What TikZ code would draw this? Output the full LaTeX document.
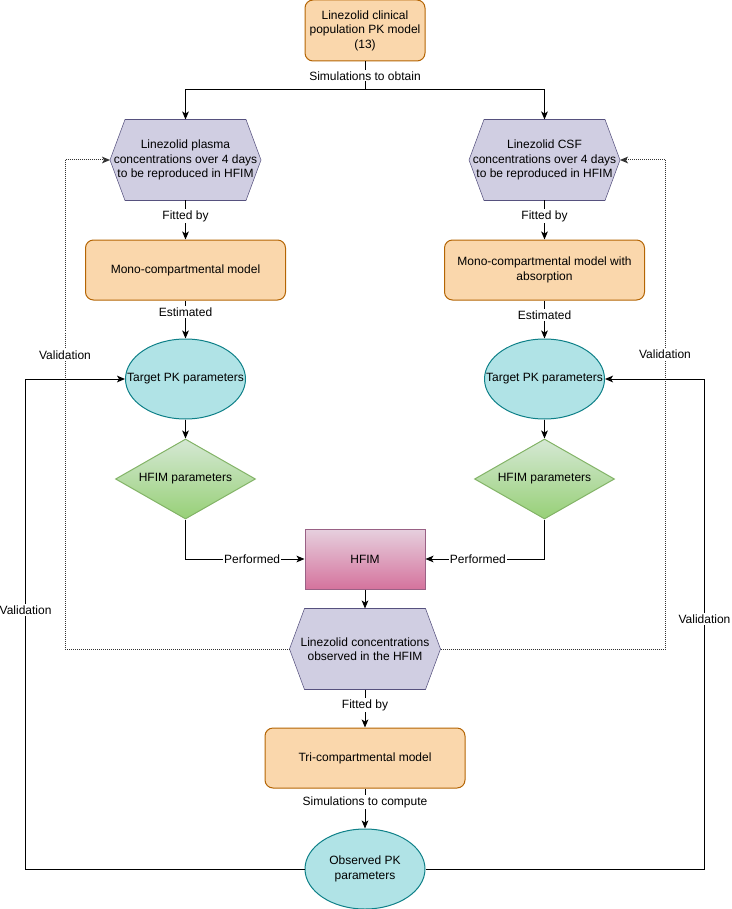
\documentclass[tikz,border=0pt]{standalone}
\usepackage{fontspec}
\setmainfont{Liberation Sans}
\usetikzlibrary{arrows.meta,positioning,shapes.geometric,backgrounds}
\definecolor{modelFill}{HTML}{FAD7AC}
\definecolor{modelLine}{HTML}{B46504}
\definecolor{concFill}{HTML}{D0CEE2}
\definecolor{concLine}{HTML}{56517E}
\definecolor{pkFill}{HTML}{B0E3E6}
\definecolor{pkLine}{HTML}{0E8088}
\definecolor{parTop}{HTML}{D5E8D4}
\definecolor{parBot}{HTML}{97D077}
\definecolor{parLine}{HTML}{82B366}
\definecolor{runTop}{HTML}{E6D0DE}
\definecolor{runBot}{HTML}{D5739D}
\definecolor{runLine}{HTML}{996185}
\definecolor{dotLine}{HTML}{333333}
\tikzset{
  model/.style={draw=modelLine,fill=modelFill,rounded corners=6pt,
    minimum width=150pt,minimum height=45pt,align=center},
  conc/.style={minimum width=112.5pt,minimum height=60pt,inner sep=0pt,align=center},
  pkpar/.style={ellipse,draw=pkLine,fill=pkFill,minimum width=90pt,
    minimum height=60pt,inner sep=0pt,align=center},
  hfimpar/.style={diamond,draw=parLine,top color=parTop,bottom color=parBot,
    minimum width=105pt,minimum height=60pt,aspect=1.75,inner sep=0pt},
  runbox/.style={draw=runLine,top color=runTop,bottom color=runBot,
    minimum width=90pt,minimum height=45pt},
  lbl/.style={fill=white,inner sep=1pt},
  arr/.style={-{Stealth[length=6pt,width=5pt,inset=1.5pt]}},
  valdot/.style={arr,dotLine,dash pattern=on 0.75pt off 0.75pt}
}
\newcommand{\hexbg}[1]{\filldraw[draw=concLine,fill=concFill]
  ([xshift=11.25pt]#1.north west) -- ([xshift=-11.25pt]#1.north east) -- (#1.east)
  -- ([xshift=-11.25pt]#1.south east) -- ([xshift=11.25pt]#1.south west) -- (#1.west) -- cycle;}

\begin{document}
\begin{tikzpicture}[x=0.75pt,y=-0.75pt,font=\fontsize{9}{10.9}\selectfont,line width=0.75pt]
  \useasboundingbox (0,0) rectangle (731,909);
  % boxes
  \node[model,minimum width=90pt,minimum height=45.75pt] (clin) at (365,30.5)
    {Linezolid clinical\\population PK model\\(13)};
  \coordinate (split) at (365,90);
  \node[conc] (plasma) at (185.5,160)
    {Linezolid plasma\\concentrations over 4 days\\to be reproduced in HFIM};
  \node[conc] (csf) at (544.5,160)
    {Linezolid CSF\\concentrations over 4 days\\to be reproduced in HFIM};
  \node[model] (monoL) at (185.5,270) {Mono-compartmental model};
  \node[model] (monoR) at (544.5,270) {Mono-compartmental model with\\absorption};
  \node[pkpar] (targL) at (185.5,379) {\makebox[0pt]{Target PK parameters}};
  \node[pkpar] (targR) at (544.5,379) {\makebox[0pt]{Target PK parameters}};
  \node[hfimpar] (parL) at (185.5,479) {HFIM parameters};
  \node[hfimpar] (parR) at (544.5,479) {HFIM parameters};
  \node[runbox] (hfim) at (365,559) {HFIM};
  \node[conc] (obsconc) at (365,649) {Linezolid concentrations\\observed in the HFIM};
  \node[model] (tri) at (365,758) {Tri-compartmental model};
  \node[pkpar] (obspk) at (365,869) {\makebox[0pt]{Observed PK}\\\makebox[0pt]{parameters}};
  \begin{scope}[on background layer]
    \hexbg{plasma}
    \hexbg{csf}
    \hexbg{obsconc}
  \end{scope}
  % arrows
  \draw (clin) -- node[lbl] {Simulations to obtain} (split);
  \draw[arr] (split) -| (plasma);
  \draw[arr] (split) -| (csf);
  \draw[arr] (plasma) -- node[lbl,pos=0.4] {Fitted by} (monoL);
  \draw[arr] (csf) -- node[lbl,pos=0.4] {Fitted by} (monoR);
  \draw[arr] (monoL) -- node[lbl,pos=0.3] {Estimated} (targL);
  \draw[arr] (monoR) -- node[lbl,pos=0.38] {Estimated} (targR);
  \draw[arr] (targL) -- (parL);
  \draw[arr] (targR) -- (parR);
  \draw[arr] (parL) |- node[lbl,pos=0.78] {Performed} (hfim);
  \draw[arr] (parR) |- node[lbl,pos=0.78] {Performed} (hfim);
  \draw[arr] (hfim) -- (obsconc);
  \draw[arr] (obsconc) -- node[lbl,pos=0.41] {Fitted by} (tri);
  \draw[arr] (tri) -- node[lbl,pos=0.34] {Simulations to compute} (obspk);
  % validation loops
  \draw[valdot] (obsconc.west) -| (65,160) -- (plasma.west);
  \draw[valdot] (obsconc.east) -| (665,160) -- (csf.east);
  \draw[arr] (obspk.west) -| (25.6,379) -- (targL.west);
  \draw[arr] (obspk.east) -| (704.5,379) -- (targR.east);
  \node[lbl] (valA) at (65,355) {Validation};
  \node[lbl] (valB) at (665,354) {Validation};
  \node[lbl] (valC) at (25.6,610) {Validation};
  \node[lbl] (valD) at (704.5,619) {Validation};
\end{tikzpicture}
\end{document}
